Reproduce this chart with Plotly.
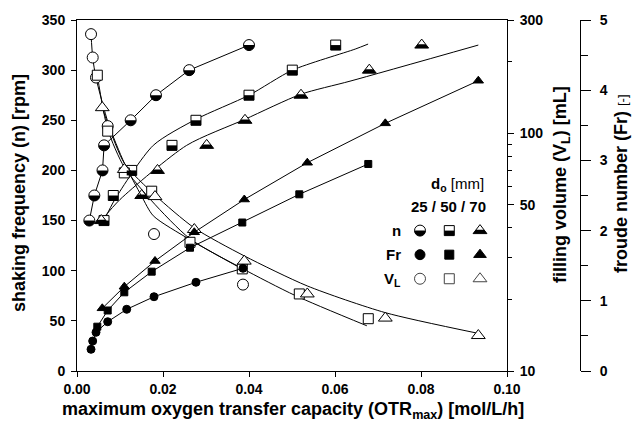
import math
import plotly.graph_objects as go

# ---------------- data ----------------
n_vals = [150, 175, 200, 225, 250, 275, 300, 325]           # shaking frequency [rpm]
otr_n25 = [0.00287, 0.00403, 0.00593, 0.00630, 0.01248, 0.01837, 0.02609, 0.0400]
otr_n50 = [0.00628, 0.00844, 0.01272, 0.02209, 0.02767, 0.0400, 0.05007, 0.06016]
otr_n70 = [0.00565, 0.01505, 0.01872, 0.03016, 0.03907, 0.05209, 0.06798, 0.08016]

# fitted curves n(OTR) for 50 and 70 mm
fit_n50_x = [0.00628, 0.0088, 0.01774, 0.02767, 0.0400, 0.0501, 0.0647, 0.0677]
fit_n50_y = [150, 171, 225, 251, 275, 300, 321, 326]
fit_n70_x = [0.00565, 0.0100, 0.0255, 0.03907, 0.05209, 0.06349, 0.09333]
fit_n70_y = [150, 171, 225, 251, 276, 289, 325]

# Froude numbers
otr_fr25 = [0.00326, 0.00365, 0.00442, 0.00714, 0.01156, 0.01791, 0.02767, 0.0386]
fr25 = [0.309, 0.427, 0.551, 0.702, 0.879, 1.058, 1.264, 1.463]
otr_fr50 = [0.00472, 0.00714, 0.0110, 0.01737, 0.02628, 0.03844, 0.0517, 0.06774]
fr50 = [0.631, 0.862, 1.121, 1.415, 1.756, 2.115, 2.517, 2.949]
otr_fr70 = [0.00588, 0.0110, 0.01814, 0.02728, 0.03891, 0.05356, 0.0717, 0.09333]
fr70 = [0.893, 1.201, 1.567, 1.976, 2.443, 2.967, 3.528, 4.135]

# filling volumes [mL]
otr_vl25 = [0.00326, 0.00365, 0.00442, 0.00714, 0.01791, 0.0386]
vl25 = [261.6, 208.6, 171.8, 107.3, 37.7, 23.1]
otr_vl50 = [0.00472, 0.00714, 0.0110, 0.01737, 0.02628, 0.03844, 0.0517, 0.06774]
vl50 = [175.7, 102.2, 68.2, 57.1, 34.8, 26.9, 21.1, 16.6]
otr_vl70 = [0.00588, 0.0110, 0.01814, 0.02728, 0.03891, 0.05356, 0.0717, 0.09333]
vl70 = [128.3, 70.5, 54.2, 39.4, 29.0, 21.1, 16.7, 14.1]

# fitted curves V_L(OTR)
fit_vl25_x = [0.00326, 0.00365, 0.0044, 0.0073, 0.0110, 0.01505, 0.01774, 0.02628, 0.0387]
fit_vl25_y = [261.6, 208.6, 172, 110, 75, 54.3, 45.0, 35.7, 26.7]
fit_vl50_x = [0.00472, 0.00714, 0.0110, 0.01737, 0.02628, 0.03844, 0.0507, 0.0674]
fit_vl50_y = [175.7, 104, 72, 52, 36, 27, 20.8, 15.5]
fit_vl70_x = [0.00588, 0.0110, 0.01814, 0.02728, 0.03891, 0.05356, 0.0717, 0.09333]
fit_vl70_y = [128, 75, 55, 40, 30.5, 22.8, 17.6, 14.4]

x_ticks = [0.00, 0.02, 0.04, 0.06, 0.08, 0.10]
n_ticks = [0, 50, 100, 150, 200, 250, 300, 350]
vl_ticks = [10, 50, 100, 300]
vl_minor = [20, 30, 40, 60, 70, 80, 90, 200]
fr_ticks = [0, 1, 2, 3, 4, 5]

FONT = "Liberation Sans, Arial, sans-serif"
K = "black"

fig = go.Figure()


def add_line(x, y, axis, shape="linear"):
    fig.add_trace(go.Scatter(x=x, y=y, yaxis=axis, mode="lines",
                             line=dict(color=K, width=1, shape=shape, smoothing=0.7),
                             showlegend=False, hoverinfo="skip"))


def add_markers(x, y, axis, symbol, size, fill):
    fig.add_trace(go.Scatter(x=x, y=y, yaxis=axis, mode="markers",
                             marker=dict(symbol=symbol, size=size, color=fill,
                                         line=dict(color=K, width=1)),
                             showlegend=False, hoverinfo="skip"))


# lines
add_line(otr_n25, n_vals, "y")
add_line(fit_n50_x, fit_n50_y, "y", "spline")
add_line(fit_n70_x, fit_n70_y, "y", "spline")
add_line(otr_fr25, fr25, "y3")
add_line(otr_fr50, fr50, "y3")
add_line(otr_fr70, fr70, "y3")
add_line(fit_vl25_x, fit_vl25_y, "y2", "spline")
add_line(fit_vl50_x, fit_vl50_y, "y2", "spline")
add_line(fit_vl70_x, fit_vl70_y, "y2", "spline")

# markers
SZ = {"circle": 11, "square": 10, "triangle-up": 12}
SZF = {"circle": 8, "square": 7, "triangle-up": 9}
add_markers(otr_vl25, vl25, "y2", "circle", SZ["circle"], "white")
add_markers(otr_vl50, vl50, "y2", "square", SZ["square"], "white")
add_markers(otr_vl70, vl70, "y2", "triangle-up", SZ["triangle-up"], "white")
add_markers(otr_fr25, fr25, "y3", "circle", SZF["circle"], K)
add_markers(otr_fr50, fr50, "y3", "square", SZF["square"], K)
add_markers(otr_fr70, fr70, "y3", "triangle-up", SZF["triangle-up"], K)
add_markers(otr_n25, n_vals, "y", "circle", SZ["circle"], "white")
add_markers(otr_n50, n_vals, "y", "square", SZ["square"], "white")
add_markers(otr_n70, n_vals, "y", "triangle-up", SZ["triangle-up"], "white")

# black lower halves of the n-markers (shapes anchored at the data points)
shapes = []


def half_path(symbol, size):
    r = size / 2.0
    if symbol == "circle":
        k = 0.5523 * r
        return (f"M {-r},0 C {-r},{-k} {-k},{-r} 0,{-r} "
                f"C {k},{-r} {r},{-k} {r},0 Z")
    if symbol == "square":
        return f"M {-r},0 L {r},0 L {r},{-r} L {-r},{-r} Z"
    rt = r * 2 / math.sqrt(3)
    cut = 0.15 * r
    w = rt * (1.0 - (cut + r / 2) / (1.5 * r))
    return f"M {-rt},{-r/2} L {rt},{-r/2} L {w},{cut} L {-w},{cut} Z"


def add_half(xs, ys, symbol, size, xref="x", yref="y"):
    p = half_path(symbol, size)
    for xv, yv in zip(xs, ys):
        shapes.append(dict(type="path", xref=xref, yref=yref,
                           xsizemode="pixel", ysizemode="pixel",
                           xanchor=xv, yanchor=yv, path=p,
                           fillcolor=K, line=dict(width=0), layer="above"))


add_half(otr_n25, n_vals, "circle", SZ["circle"])
add_half(otr_n50, n_vals, "square", SZ["square"])
add_half(otr_n70, n_vals, "triangle-up", SZ["triangle-up"])

# ---------------- in-plot key (d_o 25 / 50 / 70) ----------------
key_x = [0.07977, 0.08658, 0.09372]
key_rows = {"n": 140, "Fr": 116, "VL": 92}
syms = ["circle", "square", "triangle-up"]
for sx, sym in zip(key_x, syms):
    fig.add_trace(go.Scatter(x=[sx], y=[key_rows["n"]], mode="markers",
                             marker=dict(symbol=sym, size=SZ[sym], color="white",
                                         line=dict(color=K, width=1)),
                             showlegend=False, hoverinfo="skip"))
    fig.add_trace(go.Scatter(x=[sx], y=[key_rows["Fr"]], mode="markers",
                             marker=dict(symbol=sym, size=SZ[sym] - 1, color=K,
                                         line=dict(color=K, width=1)),
                             showlegend=False, hoverinfo="skip"))
    fig.add_trace(go.Scatter(x=[sx], y=[key_rows["VL"]], mode="markers",
                             marker=dict(symbol=sym, size=SZ[sym], color="white",
                                         line=dict(color="#444", width=1)),
                             showlegend=False, hoverinfo="skip"))
    add_half([sx], [key_rows["n"]], sym, SZ[sym])

# ---------------- layout ----------------
L, R, T, B = 77, 52, 20, 52
W, H = 632, 423
pw = W - L - R   # 503
ph = H - T - B   # 351
xdom = 430 / pw


def px_x(px):
    return (px - L) / pw


def px_y(py):
    return (H - B - py) / ph


def bold(vals, fmt):
    return [f"<b>{fmt.format(v)}</b>" for v in vals]


tick_font = dict(family=FONT, size=14, color=K)

fig.update_layout(
    width=W, height=H,
    margin=dict(l=L, r=R, t=T, b=B, pad=0),
    paper_bgcolor="white", plot_bgcolor="white",
    showlegend=False,
    xaxis=dict(domain=[0, xdom], range=[0, 0.1], tickmode="array",
               tickvals=x_ticks, ticktext=bold(x_ticks, "{:.2f}"),
               ticks="outside", ticklen=5, tickwidth=1, ticklabelstandoff=0,
               tickcolor=K, showline=True, linecolor=K, linewidth=1,
               mirror=True, showgrid=False, zeroline=False,
               tickfont=tick_font, anchor="y"),
    yaxis=dict(range=[0, 350], tickmode="array", tickvals=n_ticks,
               ticktext=bold(n_ticks, "{}"), ticks="outside", ticklen=5,
               ticklabelstandoff=3,
               tickwidth=1, tickcolor=K, showline=True, linecolor=K,
               linewidth=1, showgrid=False, zeroline=False,
               tickfont=tick_font, anchor="x"),
    yaxis2=dict(overlaying="y", side="right", anchor="x", type="log",
                range=[1, math.log10(300)], tickmode="array",
                tickvals=vl_ticks, ticktext=bold(vl_ticks, "{}"),
                ticks="outside", ticklen=6, tickwidth=1, tickcolor=K,
                ticklabelstandoff=3,
                minor=dict(tickmode="array", tickvals=vl_minor, ticks="outside",
                           ticklen=4, tickcolor=K, showgrid=False),
                showline=True, linecolor=K, linewidth=1, showgrid=False,
                zeroline=False, tickfont=tick_font),
    yaxis3=dict(overlaying="y", side="right", anchor="free", position=1.0,
                range=[0, 5], tickmode="array", tickvals=fr_ticks,
                ticktext=bold(fr_ticks, "{}"), ticks="outside", ticklen=10,
                tickwidth=1, tickcolor=K, ticklabelstandoff=6,
                minor=dict(dtick=0.5, ticks="outside", ticklen=7, tickcolor=K,
                           showgrid=False),
                showline=True, linecolor=K, linewidth=1, showgrid=False,
                zeroline=False, tickfont=tick_font),
    shapes=shapes,
)

title_font = dict(family=FONT, size=18, color=K)
ann = []
ann.append(dict(text="<b>shaking frequency (n) [rpm]</b>", x=px_x(19), y=px_y(193),
                xref="paper", yref="paper", textangle=-90, showarrow=False,
                font=title_font, xanchor="center", yanchor="middle"))
ann.append(dict(text="<b>filling volume (V<sub>L</sub>) [mL]</b>", x=px_x(561), y=px_y(185),
                xref="paper", yref="paper", textangle=-90, showarrow=False,
                font=title_font, xanchor="center", yanchor="middle"))
ann.append(dict(text="<b>froude number (Fr) </b><span style='font-size:13px'>[-]</span>",
                x=px_x(621), y=px_y(184),
                xref="paper", yref="paper", textangle=-90, showarrow=False,
                font=title_font, xanchor="center", yanchor="middle"))
ann.append(dict(text="<b>maximum oxygen transfer capacity (OTR<sub>max</sub>) [mol/L/h]</b>",
                x=px_x(293), y=px_y(411), xref="paper", yref="paper",
                showarrow=False, font=title_font, xanchor="center", yanchor="middle"))
key_font = dict(family=FONT, size=15, color=K)
ann.append(dict(text="<b>d<sub>o</sub></b> [mm]", x=px_x(457), y=px_y(184),
                xref="paper", yref="paper", showarrow=False, font=key_font,
                xanchor="center", yanchor="middle"))
ann.append(dict(text="<b>25 / 50 / 70</b>", x=px_x(448.5), y=px_y(207),
                xref="paper", yref="paper", showarrow=False, font=key_font,
                xanchor="center", yanchor="middle"))
for lbl, py in [("<b>n</b>", 230), ("<b>Fr</b>", 254), ("<b>V<sub>L</sub></b>", 279)]:
    ann.append(dict(text=lbl, x=px_x(403), y=px_y(py), xref="paper", yref="paper",
                    showarrow=False, font=key_font, xanchor="right", yanchor="middle"))
fig.update_layout(annotations=ann)

fig.write_html("out.html")
